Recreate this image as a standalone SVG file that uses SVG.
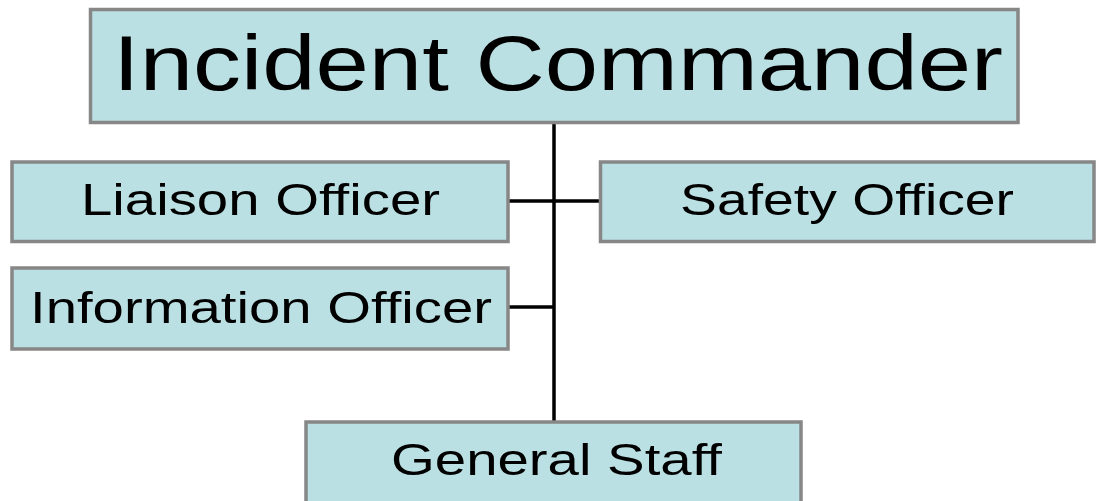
<svg xmlns="http://www.w3.org/2000/svg" width="1097" height="501" viewBox="0 0 1097 501">
  <style>
    .box { fill: #bbe0e3; stroke: #878787; stroke-width: 3.5; }
    .lbl { font-family: "Liberation Sans", Arial, sans-serif; fill: #000; }
    .sm { font-size: 45px; }
    .lg { font-size: 77px; }
    .wire { stroke: #000; stroke-width: 3.5; fill: none; }
  </style>
  <rect width="1097" height="501" fill="#fff"/>

  <!-- connectors -->
  <g id="connectors">
    <line class="wire" x1="554" y1="122" x2="554" y2="421"/>
    <line class="wire" x1="509" y1="201" x2="599" y2="201"/>
    <line class="wire" x1="509" y1="307" x2="554" y2="307"/>
  </g>

  <g id="incident-commander">
    <rect class="box" x="90.5" y="9.5" width="927.5" height="113"/>
    <text class="lbl lg" x="113" y="90" textLength="890" lengthAdjust="spacingAndGlyphs">Incident Commander</text>
  </g>

  <g id="liaison-officer">
    <rect class="box" x="12" y="162" width="496" height="79.5"/>
    <text class="lbl sm" x="81" y="215" textLength="359" lengthAdjust="spacingAndGlyphs">Liaison Officer</text>
  </g>

  <g id="safety-officer">
    <rect class="box" x="600.5" y="162" width="493.5" height="79.5"/>
    <text class="lbl sm" x="680" y="215" textLength="334" lengthAdjust="spacingAndGlyphs">Safety Officer</text>
  </g>

  <g id="information-officer">
    <rect class="box" x="12" y="268" width="496" height="81"/>
    <text class="lbl sm" x="30" y="323" textLength="462" lengthAdjust="spacingAndGlyphs">Information Officer</text>
  </g>

  <g id="general-staff">
    <rect class="box" x="306" y="422" width="495" height="100"/>
    <text class="lbl sm" x="391" y="475" textLength="331" lengthAdjust="spacingAndGlyphs">General Staff</text>
  </g>
</svg>
